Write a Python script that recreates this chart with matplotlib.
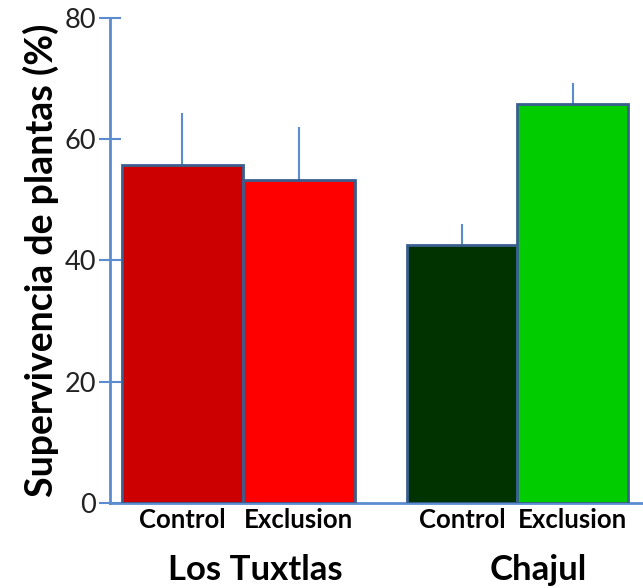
import numpy as np
import matplotlib.pyplot as plt

plt.rcParams['font.family'] = ['Lato', 'DejaVu Sans']

# datos
tratamientos = ['Control', 'Exclusion', 'Control', 'Exclusion']
sitios = ['Los Tuxtlas', 'Chajul']
supervivencia = [55.8, 53.3, 42.5, 65.8]
error_sup = [8.6, 8.7, 3.5, 3.5]
colores = ['#CC0000', '#FF0000', '#003300', '#00CC00']

pos = np.array([0.63, 1.642, 3.058, 4.018])
anchos = [1.05, 0.97, 0.955, 0.965]
pos_sitio = [1.263, 3.717]

fig = plt.figure(figsize=(6.43, 5.88), dpi=100)
ax = fig.add_axes([0.171, 0.145, 0.829, 0.824])

azul = '#5B8CD0'
ax.bar(pos, supervivencia, width=anchos, color=colores, edgecolor='#3A5F8F',
       linewidth=2, zorder=3)
ax.errorbar(pos, supervivencia, yerr=[np.zeros(4), error_sup], fmt='none',
            ecolor=azul, elinewidth=1.5, capsize=0, zorder=2)

ax.set_xlim(0, 4.63)
ax.set_ylim(0, 80)
ax.set_yticks([0, 20, 40, 60, 80])
ax.set_xticks([])
for s in ['top', 'right']:
    ax.spines[s].set_visible(False)
for s in ['left', 'bottom']:
    ax.spines[s].set_color(azul)
    ax.spines[s].set_linewidth(2)
ax.tick_params(axis='y', direction='inout', length=16, width=1.5, color=azul,
               labelsize=19.5, labelcolor='#222222', pad=2)

for x, t in zip(pos, tratamientos):
    ax.text(x, -2.8, t, ha='center', va='center', fontsize=18.5,
            fontweight='bold', clip_on=False)
for x, s in zip(pos_sitio, sitios):
    ax.text(x, -12.7, s, ha='center', va='baseline', fontsize=25,
            fontweight='bold', clip_on=False)

ax.set_ylabel('Supervivencia de plantas (%)', fontsize=27, fontweight='bold',
              labelpad=4)

fig.savefig('out.png', dpi=100)
